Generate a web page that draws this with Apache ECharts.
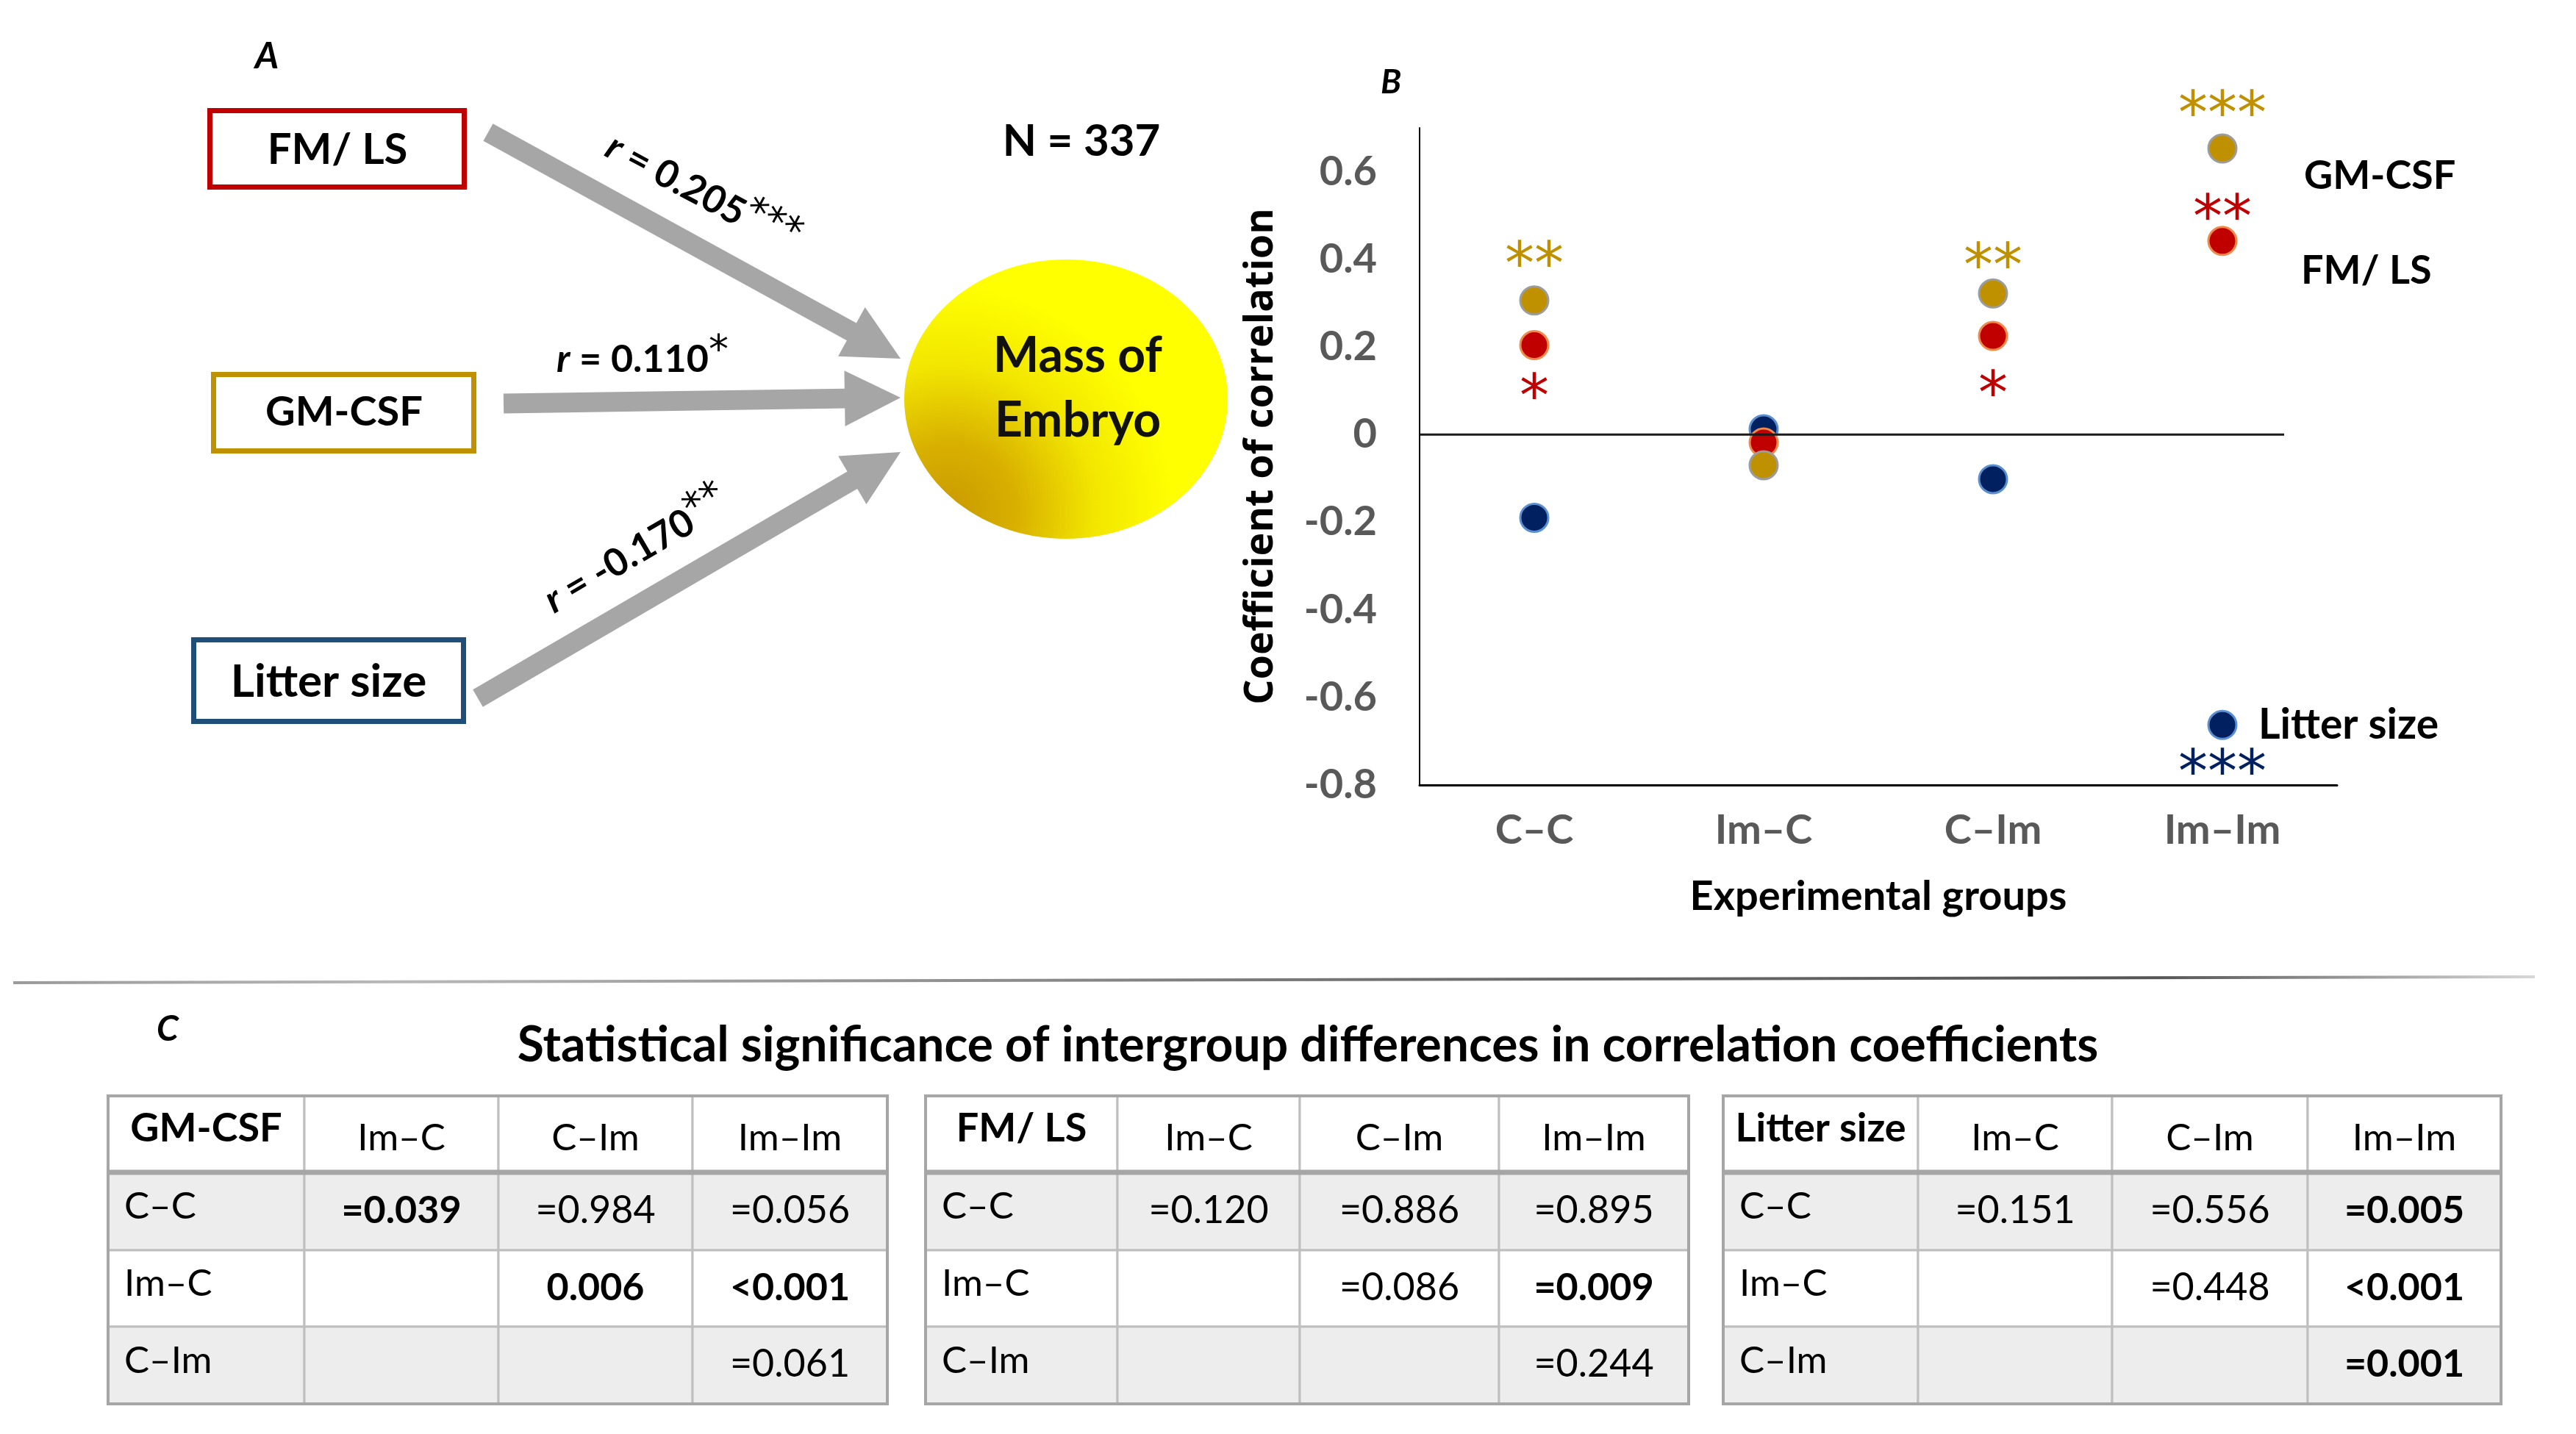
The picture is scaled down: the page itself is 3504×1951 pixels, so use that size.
<!DOCTYPE html>
<html>
<head>
<meta charset="utf-8">
<title>Mass of embryo correlations</title>
<script src="https://cdn.jsdelivr.net/npm/echarts@6/dist/echarts.min.js"></script>
<style>
  html, body { margin: 0; padding: 0; background: #fff; }
  #chart { width: 3504px; height: 1951px; }
</style>
</head>
<body>
<div id="chart"></div>
<script>
// ---- data (B) : correlation coefficient with embryo mass, per experimental group
const groups = ['C–C', 'Im–C', 'C–Im', 'Im–Im']
const gmcsfR = [0.306, -0.07, 0.322, 0.653]
const fmlsR = [0.204, -0.018, 0.225, 0.442]
const litterR = [-0.19, 0.012, -0.102, -0.663]
const gmcsfStars = ['**', '', '**', '***']
const fmlsStars = ['*', '', '*', '**']
const litterStars = ['', '', '', '***']

// ---- data (A) : pooled correlations
const predictors = ['FM/ LS', 'GM-CSF', 'Litter size']
const pooledR = ['0.205', '0.110', '-0.170']
const pooledStars = ['***', '*', '**']
const sampleSize = 337

// ---- data (C) : p values of intergroup differences
const tableNames = ['GM-CSF', 'FM/ LS', 'Litter size']
const colGroups = ['Im–C', 'C–Im', 'Im–Im']
const rowGroups = ['C–C', 'Im–C', 'C–Im']
const pGmcsf = [['=0.039', '=0.984', '=0.056'], ['', '0.006', '<0.001'], ['', '', '=0.061']]
const pFmls = [['=0.120', '=0.886', '=0.895'], ['', '=0.086', '=0.009'], ['', '', '=0.244']]
const pLitter = [['=0.151', '=0.556', '=0.005'], ['', '=0.448', '<0.001'], ['', '', '=0.001']]

// ---- styles
const FONT = 'Lato'
const GOLD = '#BF9000'
const RED = '#C00000'
const NAVY = '#002060'
const GREY_TXT = '#595959'
const ARROW = '#A6A6A6'

// star label distance from dot centre (px, negative = above)
const starGap = {
  gm: [-62, 0, -50, -60],
  fm: [58, 0, 66, -45],
  ls: [0, 0, 0, 52],
}
const STAR_SIZE = 80
const STAR_SHIFT = 18 // asterisk glyph sits above the text middle

const chart = echarts.init(document.getElementById('chart'))

function txt(x, y, text, size, extra) {
  return {
    type: 'text',
    x: x,
    y: y,
    z: 20,
    style: Object.assign({
      text: text,
      fontFamily: FONT,
      fontSize: size,
      fontWeight: 'bold',
      fill: '#000',
      align: 'center',
      verticalAlign: 'middle',
    }, extra || {}),
  }
}

// block arrow polygon from (x1,y1) to tip (x2,y2)
function arrowShape(x1, y1, x2, y2, shaft, headW, headL) {
  const dx = x2 - x1
  const dy = y2 - y1
  const len = Math.hypot(dx, dy)
  const ux = dx / len
  const uy = dy / len
  const nx = -uy
  const ny = ux
  const bx = x2 - ux * headL
  const by = y2 - uy * headL
  return [
    [x1 + nx * shaft / 2, y1 + ny * shaft / 2],
    [bx + nx * shaft / 2, by + ny * shaft / 2],
    [bx + nx * headW / 2, by + ny * headW / 2],
    [x2, y2],
    [bx - nx * headW / 2, by - ny * headW / 2],
    [bx - nx * shaft / 2, by - ny * shaft / 2],
    [x1 - nx * shaft / 2, y1 - ny * shaft / 2],
  ]
}

function starData(values, stars, gaps) {
  return values.map((v, i) => ({
    value: v,
    label: {
      show: stars[i] !== '',
      formatter: stars[i],
      offset: [0, gaps[i] + STAR_SHIFT],
    },
  }))
}

function dotSeries(name, values, stars, gaps, color, border) {
  return {
    name: name,
    type: 'scatter',
    data: starData(values, stars, gaps),
    symbol: 'circle',
    symbolSize: 38,
    itemStyle: { color: color, borderColor: border, borderWidth: 3, opacity: 1 },
    label: {
      position: 'inside',
      color: color,
      fontFamily: 'DejaVu Sans',
      fontSize: STAR_SIZE,
    },
    emphasis: { disabled: true },
  }
}

// ---------------- panel A graphics
const graphics = []

graphics.push(txt(363, 77, 'A', 50, { fontStyle: 'italic' }))

const boxes = [
  { x: 285.5, y: 150.5, w: 346, h: 104, color: RED, tx: 459, ty: 204, size: 58 },
  { x: 290.5, y: 509.5, w: 354, h: 104, color: GOLD, tx: 468, ty: 561, size: 56 },
  { x: 263.5, y: 870.5, w: 367, h: 111, color: '#1F4E79', tx: 447, ty: 928, size: 62 },
]
boxes.forEach((b, i) => {
  graphics.push({
    type: 'rect',
    z: 10,
    shape: { x: b.x, y: b.y, width: b.w, height: b.h },
    style: { fill: '#fff', stroke: b.color, lineWidth: 7 },
  })
  graphics.push(txt(b.tx, b.ty, predictors[i], b.size))
})

const arrows = [
  [664, 180, 1225, 488],
  [685, 549, 1225, 541],
  [650, 950, 1225, 615],
]
arrows.forEach((a) => {
  graphics.push({
    type: 'polygon',
    z: 5,
    shape: { points: arrowShape(a[0], a[1], a[2], a[3], 27, 76, 76) },
    style: { fill: ARROW },
  })
})

const rLabels = [
  { x: 955, y: 264, rot: -0.49 },
  { x: 874, y: 489, rot: 0 },
  { x: 866, y: 750, rot: 0.53 },
]
rLabels.forEach((p, i) => {
  graphics.push({
    type: 'text',
    x: p.x,
    y: p.y,
    rotation: p.rot,
    z: 20,
    style: {
      text: '{i|r}{n| = ' + pooledR[i] + '}{s|' + pooledStars[i] + '}',
      align: 'center',
      verticalAlign: 'middle',
      fill: '#000',
      rich: {
        i: { fontFamily: FONT, fontStyle: 'italic', fontWeight: 'bold', fontSize: 52 },
        n: { fontFamily: FONT, fontWeight: 'bold', fontSize: 52 },
        s: { fontFamily: 'DejaVu Sans', fontSize: 54, padding: [0, 0, 20, 0] },
      },
    },
  })
})

graphics.push(txt(1471, 193, 'N = ' + sampleSize, 60))

graphics.push({
  type: 'ellipse',
  z: 10,
  shape: { cx: 1450, cy: 543, rx: 220, ry: 190 },
  style: {
    fill: new echarts.graphic.RadialGradient(0.14, 0.9, 0.8, [
      { offset: 0, color: '#C99A00' },
      { offset: 0.3, color: '#D8B000' },
      { offset: 0.65, color: '#F2E600' },
      { offset: 1, color: '#FFFF00' },
    ]),
  },
})
graphics.push(txt(1466, 529, 'Mass of\nEmbryo', 66, { lineHeight: 88, fill: '#111' }))

// ---------------- panel B labels
graphics.push(txt(1892, 112, 'B', 46, { fontStyle: 'italic' }))
graphics.push(txt(3134, 240, 'GM-CSF', 54, { align: 'left' }))
graphics.push(txt(3130, 369, 'FM/ LS', 54, { align: 'left' }))
graphics.push(txt(3072, 987, 'Litter size', 57, { align: 'left' }))

// ---------------- divider
graphics.push({
  type: 'line',
  z: 5,
  shape: { x1: 18, y1: 1337, x2: 3448, y2: 1329 },
  style: {
    lineWidth: 4,
    stroke: new echarts.graphic.LinearGradient(0, 0, 1, 0, [
      { offset: 0, color: '#9a9a9a' },
      { offset: 0.15, color: '#b8b8b8' },
      { offset: 0.55, color: '#707070' },
      { offset: 0.85, color: '#555' },
      { offset: 1, color: '#d8d8d8' },
    ]),
  },
})

// ---------------- panel C tables
graphics.push(txt(228, 1401, 'C', 48, { fontStyle: 'italic' }))
graphics.push(txt(1779, 1423, 'Statistical significance of intergroup differences in correlation coefficients', 66))

const tableCols = [
  [147, 414, 678, 942, 1207],
  [1259, 1520, 1768, 2039, 2297],
  [2344, 2609, 2873, 3139, 3402],
]
const tableRows = [1491, 1595, 1701, 1805, 1910]
const pTables = [pGmcsf, pFmls, pLitter]

function isSignificant(s) {
  const v = parseFloat(s.replace(/[=<]/g, ''))
  return !isNaN(v) && v < 0.05
}

tableCols.forEach((cols, t) => {
  for (let r = 0; r < 4; r++) {
    for (let c = 0; c < 4; c++) {
      graphics.push({
        type: 'rect',
        z: 10,
        shape: { x: cols[c], y: tableRows[r], width: cols[c + 1] - cols[c], height: tableRows[r + 1] - tableRows[r] },
        style: { fill: r % 2 === 1 ? '#EDEDED' : '#fff', stroke: '#BFBFBF', lineWidth: 3 },
      })
    }
  }
  graphics.push({
    type: 'line',
    z: 12,
    shape: { x1: cols[0], y1: tableRows[1], x2: cols[4], y2: tableRows[1] },
    style: { stroke: '#A6A6A6', lineWidth: 7 },
  })
  graphics.push({
    type: 'rect',
    z: 12,
    shape: { x: cols[0], y: tableRows[0], width: cols[4] - cols[0], height: tableRows[4] - tableRows[0] },
    style: { fill: 'none', stroke: '#A6A6A6', lineWidth: 4 },
  })

  graphics.push(txt((cols[0] + cols[1]) / 2, 1536, tableNames[t], 54))
  colGroups.forEach((g, c) => {
    graphics.push(txt((cols[c + 1] + cols[c + 2]) / 2, 1549, g, 51, { fontWeight: 'normal' }))
  })
  rowGroups.forEach((g, r) => {
    const mid = (tableRows[r + 1] + tableRows[r + 2]) / 2
    graphics.push(txt(cols[0] + 22, mid - 6, g, 51, { fontWeight: 'normal', align: 'left' }))
    pTables[t][r].forEach((p, c) => {
      if (!p) return
      graphics.push(txt((cols[c + 1] + cols[c + 2]) / 2, mid - 1, p, 52, {
        fontWeight: isSignificant(p) ? 'bold' : 'normal',
      }))
    })
  })
})

// ---------------- chart
const option = {
  animation: false,
  backgroundColor: '#fff',
  grid: { left: 1931, right: 325, top: 174, bottom: 883 },
  xAxis: {
    type: 'category',
    data: groups,
    boundaryGap: true,
    axisLine: { show: true, onZero: false, lineStyle: { color: '#000', width: 3 } },
    axisTick: { show: false },
    splitLine: { show: false },
    axisLabel: { color: GREY_TXT, fontFamily: FONT, fontWeight: 'bold', fontSize: 56, margin: 34 },
    name: 'Experimental groups',
    nameLocation: 'middle',
    nameGap: 124,
    nameTextStyle: { color: '#000', fontFamily: FONT, fontWeight: 'bold', fontSize: 56 },
  },
  yAxis: {
    type: 'value',
    min: -0.8,
    max: 0.7,
    interval: 0.2,
    axisLine: { show: true, onZero: false, lineStyle: { color: '#000', width: 2 } },
    axisTick: { show: false },
    splitLine: { show: false },
    axisLabel: {
      color: GREY_TXT,
      fontFamily: FONT,
      fontWeight: 'bold',
      fontSize: 56,
      margin: 58,
      showMaxLabel: false,
      formatter: (v) => {
        if (v > 0.65) return ''
        if (Math.abs(v) < 1e-9) return '0'
        return String(+v.toFixed(1))
      },
    },
    name: 'Coefficient of correlation',
    nameLocation: 'middle',
    nameGap: 188,
    nameTextStyle: { color: '#000', fontFamily: 'Open Sans', fontWeight: 'bold', fontSize: 54 },
  },
  series: [
    dotSeries('Litter size', litterR, litterStars, starGap.ls, NAVY, '#5B8FD0'),
    dotSeries('FM/ LS', fmlsR, fmlsStars, starGap.fm, RED, '#F08A4B'),
    dotSeries('GM-CSF', gmcsfR, gmcsfStars, starGap.gm, GOLD, '#9C9C9C'),
  ],
  graphic: { elements: graphics },
}

chart.setOption(option)

// zero reference line, placed through the value axis
const y0 = chart.convertToPixel({ yAxisIndex: 0 }, 0)
chart.setOption({
  graphic: {
    elements: [{
      id: 'zeroLine',
      type: 'line',
      z: 30,
      shape: { x1: 1931, y1: y0, x2: 3107, y2: y0 },
      style: { stroke: '#1a1a1a', lineWidth: 3 },
    }],
  },
})

window.addEventListener('resize', () => {
  chart.resize()
})
</script>
</body>
</html>
